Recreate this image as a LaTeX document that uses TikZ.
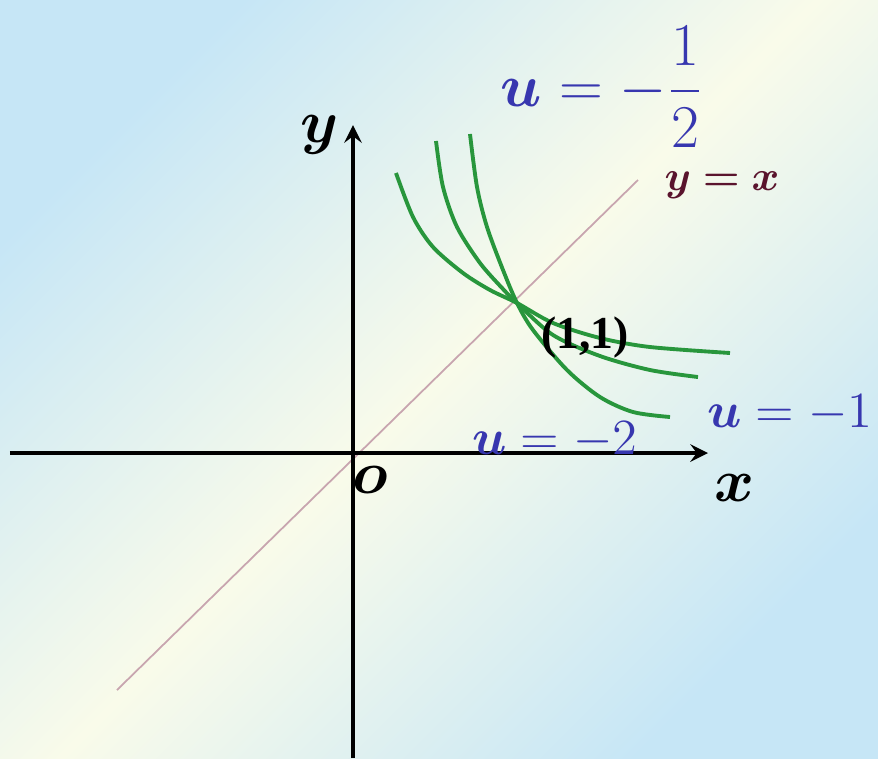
\documentclass[tikz,border=0pt]{standalone}
\usepackage{amsmath,amssymb,bm}
\usepackage{fontspec}
\usepackage{tikz}
\usetikzlibrary{arrows.meta,positioning,calc}

\newfontfamily\ptfont{Liberation Serif}

\definecolor{curvegreen}{RGB}{40,150,60}
\definecolor{labelblue}{RGB}{55,55,175}
\definecolor{linepink}{RGB}{200,165,175}
\definecolor{eqmaroon}{RGB}{90,20,45}
\definecolor{bgblue}{RGB}{198,230,246}
\definecolor{bgpale}{RGB}{249,251,234}

\tikzset{
  axislbl/.style={font=\fontsize{18}{20}\selectfont},
  ulbl/.style={text=labelblue,font=\fontsize{15}{18}\selectfont},
  powcurve/.style={curvegreen,line width=1.1pt},
}

\begin{document}
\begin{tikzpicture}[x=1cm,y=1cm]
  \useasboundingbox (-3.53,-3.05) rectangle (5.25,4.53);
  \shade[top color=bgblue,bottom color=bgblue,middle color=bgpale,shading angle=45] (-3.53,-3.05) rectangle (5.25,4.53); % 背景
  \draw[linepink,line width=0.5pt] (-2.36,-2.37) -- (2.85,2.73); % y=x
  \draw[line width=1.2pt,->,>=stealth] (-3.43,0) -- (3.55,0); % x軸
  \draw[line width=1.2pt,->,>=stealth] (0,-3.05) -- (0,3.28); % y軸
  \draw[powcurve] plot[smooth] coordinates {(0.43,2.80) (0.60,2.36) (0.80,2.06) (1.10,1.80) (1.37,1.63) (1.64,1.50) (2.00,1.30) (2.47,1.15) (2.97,1.06) (3.77,1.00)}; % u=-1/2
  \draw[powcurve] plot[smooth] coordinates {(0.83,3.12) (0.90,2.66) (1.04,2.26) (1.27,1.90) (1.50,1.64) (1.64,1.50) (2.00,1.18) (2.47,0.97) (2.97,0.83) (3.45,0.76)}; % u=-1
  \draw[powcurve] plot[smooth] coordinates {(1.17,3.19) (1.24,2.66) (1.34,2.26) (1.50,1.83) (1.64,1.50) (1.80,1.23) (2.14,0.83) (2.47,0.56) (2.80,0.41) (3.17,0.36)}; % u=-2
  \node[axislbl] (ylab) at (-0.33,3.18) {$\bm{y}$};
  \node[axislbl] (olab) at (0.17,-0.27) {$\bm{o}$};
  \node[axislbl] (xlab) at (3.82,-0.35) {$\bm{x}$};
  \node[text=eqmaroon,font=\fontsize{13}{15}\selectfont] (eqlab) at (3.69,2.68) {$\bm{y=x}$};
  \node[font=\fontsize{13}{15}\selectfont\ptfont\bfseries] (ptlab) at (2.32,1.16) {(1,1)};
  \node[ulbl,font=\fontsize{17}{20}\selectfont] (uhalf) at (2.49,3.66) {$\bm{u}=-\dfrac{1}{2}$};
  \node[ulbl] (uone) at (4.37,0.40) {$\bm{u}=-1$};
  \node[ulbl] (utwo) at (2.02,0.13) {$\bm{u}=-2$};
\end{tikzpicture}
\end{document}
